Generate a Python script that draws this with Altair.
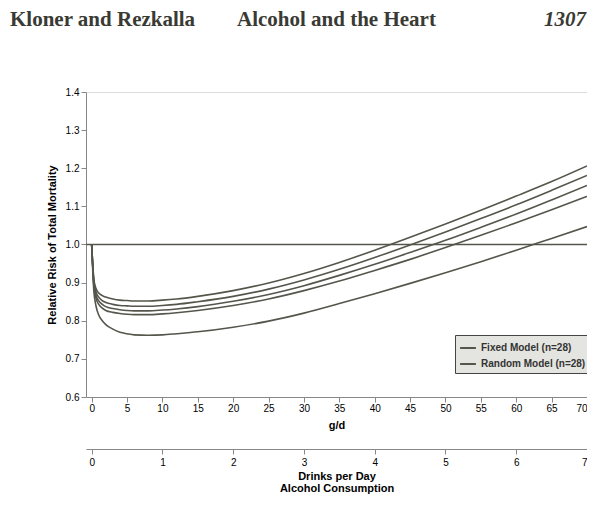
import altair as alt
import pandas as pd

# ---- data ----
grams = [0, 0.3, 0.6, 1, 1.5, 2, 3, 4, 5, 6, 8, 10, 12, 15, 20, 25, 30, 35, 40, 45, 50, 55, 60, 65, 70]
curve_1 = [1.0, 0.91, 0.885, 0.873, 0.866, 0.862, 0.857, 0.854, 0.853, 0.852, 0.852, 0.854, 0.857, 0.864, 0.879, 0.899, 0.924, 0.953, 0.985, 1.019, 1.054, 1.090, 1.127, 1.165, 1.206]
curve_2 = [1.0, 0.905, 0.876, 0.862, 0.853, 0.848, 0.843, 0.840, 0.839, 0.838, 0.838, 0.840, 0.843, 0.850, 0.864, 0.883, 0.907, 0.935, 0.966, 0.999, 1.033, 1.068, 1.104, 1.142, 1.181]
curve_3 = [1.0, 0.90, 0.868, 0.852, 0.843, 0.837, 0.832, 0.829, 0.827, 0.826, 0.826, 0.828, 0.831, 0.837, 0.851, 0.869, 0.892, 0.919, 0.948, 0.979, 1.011, 1.045, 1.080, 1.117, 1.155]
curve_4 = [1.0, 0.895, 0.860, 0.843, 0.833, 0.827, 0.822, 0.819, 0.817, 0.816, 0.816, 0.818, 0.821, 0.827, 0.840, 0.857, 0.879, 0.904, 0.932, 0.961, 0.992, 1.024, 1.057, 1.091, 1.126]
curve_5 = [1.0, 0.88, 0.840, 0.815, 0.800, 0.790, 0.778, 0.770, 0.766, 0.763, 0.762, 0.763, 0.766, 0.771, 0.783, 0.799, 0.820, 0.845, 0.871, 0.898, 0.926, 0.955, 0.985, 1.016, 1.047]
curve_model = ["Random Model (n=28)", "Fixed Model (n=28)", "Fixed Model (n=28)", "Fixed Model (n=28)", "Random Model (n=28)"]
legend_labels = ["Fixed Model (n=28)", "Random Model (n=28)"]

y_ticks = [0.6, 0.7, 0.8, 0.9, 1.0, 1.1, 1.2, 1.3, 1.4]
x_ticks = [0, 5, 10, 15, 20, 25, 30, 35, 40, 45, 50, 55, 60, 65, 70]
drink_ticks = [0, 1, 2, 3, 4, 5, 6, 7]
ref_drinks = [-0.08, 7]
ref_value = [1.0, 1.0]

header_left = "Kloner and Rezkalla"
header_mid = "Alcohol and the Heart"
header_page = "1307"

rows = []
for i, c in enumerate([curve_1, curve_2, curve_3, curve_4, curve_5]):
    for g, v in zip(grams, c):
        rows.append({"gd": g, "rr": v, "curve": f"c{i+1}", "model": curve_model[i]})
df = pd.DataFrame(rows)
ref_df = pd.DataFrame({"drinks": ref_drinks, "rr": ref_value})

INK = "#55554c"
AX = "#3f3f3a"

yscale = alt.Scale(domain=[0.6, 1.4], nice=False, zero=False)
yaxis = alt.Axis(values=y_ticks, format=".1f", title="Relative Risk of Total Mortality",
                 grid=False, titlePadding=8, labelOverlap=False)

curves = alt.Chart(df).mark_line(strokeWidth=1.6, interpolate="monotone").encode(
    x=alt.X("gd:Q", scale=alt.Scale(domain=[-0.8, 70], nice=False, zero=False),
            axis=alt.Axis(values=x_ticks, title="g/d", grid=False, orient="bottom",
                          labelPadding=1, titlePadding=6, labelOverlap=False)),
    y=alt.Y("rr:Q", scale=yscale, axis=yaxis),
    color=alt.Color("model:N", scale=alt.Scale(domain=legend_labels, range=[INK, INK]),
                    legend=alt.Legend(title=None, orient="none", legendX=369, legendY=243,
                                      symbolType="stroke", symbolStrokeWidth=2, symbolSize=250,
                                      labelFontSize=10, labelFontWeight="bold", labelColor="#333",
                                      strokeColor="#444", fillColor="#e4e4e0", padding=4,
                                      rowPadding=2)),
    detail="curve:N",
)

ref = alt.Chart(ref_df).mark_line(strokeWidth=1.3, color=INK).encode(
    x=alt.X("drinks:Q", scale=alt.Scale(domain=[-0.08, 7], nice=False, zero=False),
            axis=alt.Axis(values=drink_ticks, title=["Drinks per Day", "Alcohol Consumption"],
                          orient="bottom", offset=52, grid=False, labelPadding=3,
                          titlePadding=3, titleLineHeight=12, labelOverlap=False)),
    y=alt.Y("rr:Q", scale=yscale, axis=yaxis),
)

def header(txt, xpos, align, style="normal"):
    return alt.Chart(pd.DataFrame({"t": [txt]})).mark_text(
        font="Liberation Serif", fontSize=21, fontWeight="bold", fontStyle=style,
        align=align, baseline="alphabetic", color="#3a3a34"
    ).encode(x=alt.value(xpos), y=alt.value(-66), text="t:N")

chart = alt.layer(
    curves, ref,
    header(header_left, -76, "left"),
    header(header_mid, 151, "left"),
    header(header_page, 500, "right", "italic"),
).resolve_scale(x="independent").properties(
    width=501, height=305,
    autosize=alt.AutoSizeParams(type="none"),
    padding={"left": 78, "top": 84, "right": 0, "bottom": 98},
).configure_view(stroke=None).configure_axis(
    domainColor=AX, domainWidth=1.6, tickColor=AX, tickSize=4, tickWidth=1.2,
    labelColor="#3a3a34", labelFont="Liberation Sans", labelFontSize=10, labelFontWeight="bold",
    titleColor="#3a3a34", titleFont="Liberation Sans", titleFontSize=10, titleFontWeight="normal",
).configure(background="white")

chart.save("out.html", embed_options={"renderer": "svg", "actions": False})
